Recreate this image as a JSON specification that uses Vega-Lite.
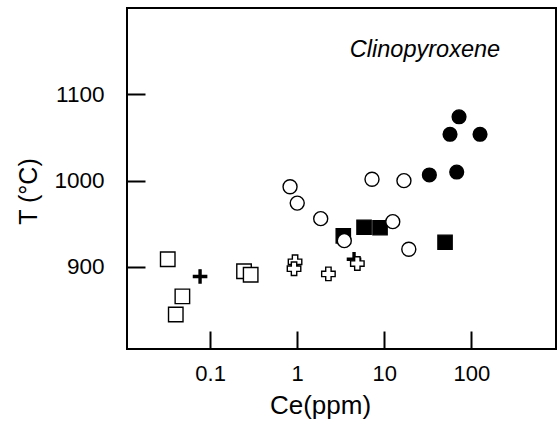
{
  "$schema": "https://vega.github.io/schema/vega-lite/v6.json",
  "width": 429,
  "height": 341,
  "autosize": "none",
  "padding": {"left": 127, "top": 8, "right": 2, "bottom": 80},
  "background": "white",
  "config": {
    "view": {"stroke": "black", "strokeWidth": 2},
    "font": "Liberation Sans",
    "axis": {"grid": false, "domain": false, "tickColor": "black", "tickWidth": 2, "labelColor": "black", "titleColor": "black", "labelFont": "Liberation Sans", "titleFont": "Liberation Sans", "titleFontWeight": "normal"}
  },
  "datasets": {
    "pts": [
      {"group": "open square", "ce": 0.0326, "t": 909},
      {"group": "open square", "ce": 0.048, "t": 866},
      {"group": "open square", "ce": 0.0403, "t": 845},
      {"group": "open square", "ce": 0.245, "t": 895},
      {"group": "open square", "ce": 0.292, "t": 891},
      {"group": "bold plus", "ce": 0.0766, "t": 889},
      {"group": "bold plus", "ce": 4.49, "t": 909},
      {"group": "open cross", "ce": 0.944, "t": 906},
      {"group": "open cross", "ce": 0.919, "t": 898},
      {"group": "open cross", "ce": 2.28, "t": 892},
      {"group": "open cross", "ce": 4.9, "t": 904},
      {"group": "filled square", "ce": 3.38, "t": 936},
      {"group": "filled square", "ce": 5.85, "t": 946},
      {"group": "filled square", "ce": 8.93, "t": 945.5},
      {"group": "filled square", "ce": 49.8, "t": 928.6},
      {"group": "open circle", "ce": 0.827, "t": 993},
      {"group": "open circle", "ce": 1.0, "t": 974},
      {"group": "open circle", "ce": 1.86, "t": 956},
      {"group": "open circle", "ce": 3.47, "t": 930.5},
      {"group": "open circle", "ce": 7.22, "t": 1001.6},
      {"group": "open circle", "ce": 16.8, "t": 1000},
      {"group": "open circle", "ce": 12.5, "t": 952.5},
      {"group": "open circle", "ce": 19.1, "t": 920.5},
      {"group": "filled circle", "ce": 32.9, "t": 1006.6},
      {"group": "filled circle", "ce": 67.8, "t": 1010},
      {"group": "filled circle", "ce": 56.8, "t": 1053.7},
      {"group": "filled circle", "ce": 125.6, "t": 1053.7},
      {"group": "filled circle", "ce": 72.1, "t": 1074}
    ],
    "label": [{"text": "Clinopyroxene", "ce": 29.3, "t": 1143}]
  },
  "layer": [
    {
      "data": {"name": "pts"},
      "mark": {"type": "point", "filled": false, "stroke": "black", "strokeWidth": 1.4, "opacity": 1},
      "encoding": {
        "x": {
          "field": "ce", "type": "quantitative",
          "scale": {"type": "log", "domain": [0.0111, 936], "nice": false},
          "axis": {"values": [0.1, 1, 10, 100], "format": "~g", "title": "Ce(ppm)", "offset": -18, "tickSize": 18, "labelPadding": 31, "labelFontSize": 22, "titleFontSize": 26, "titleX": 193, "titleY": 82, "titleBaseline": "alphabetic", "labelFlush": false, "labelBaseline": "alphabetic", "zindex": 1}
        },
        "y": {
          "field": "t", "type": "quantitative",
          "scale": {"domain": [805, 1200], "nice": false, "zero": false},
          "axis": {"values": [900, 1000, 1100], "format": "d", "title": "T (°C)", "offset": -18, "tickSize": 18, "labelPadding": 23, "labelFontSize": 22.5, "titleFontSize": 25, "titleX": -117, "titleY": 183, "titleAlign": "center", "titleBaseline": "middle", "labelFlush": false, "zindex": 1}
        },
        "shape": {
          "field": "group", "type": "nominal", "legend": null,
          "scale": {
            "domain": ["open square", "filled square", "open circle", "filled circle", "open cross", "bold plus"],
            "range": ["square", "square", "circle", "circle", "M-1,-0.4H-0.4V-1H0.4V-0.4H1V0.4H0.4V1H-0.4V0.4H-1Z", "M-1,-0.15H-0.15V-1H0.15V-0.15H1V0.15H0.15V1H-0.15V0.15H-1Z"]
          }
        },
        "fill": {
          "field": "group", "type": "nominal", "legend": null,
          "scale": {
            "domain": ["open square", "filled square", "open circle", "filled circle", "open cross", "bold plus"],
            "range": ["white", "black", "white", "black", "white", "black"]
          }
        },
        "size": {
          "field": "group", "type": "nominal", "legend": null,
          "scale": {
            "domain": ["open square", "filled square", "open circle", "filled circle", "open cross", "bold plus"],
            "range": [210, 175, 250, 180, 256, 170]
          }
        }
      }
    },
    {
      "data": {"name": "label"},
      "mark": {"type": "text", "fontStyle": "italic", "fontSize": 23.5, "align": "center", "baseline": "alphabetic", "color": "black"},
      "encoding": {
        "x": {"field": "ce", "type": "quantitative"},
        "y": {"field": "t", "type": "quantitative"},
        "text": {"field": "text"}
      }
    }
  ]
}
